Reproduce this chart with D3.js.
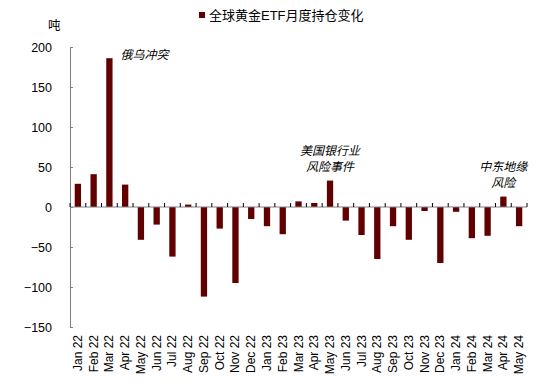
<!DOCTYPE html>
<html>
<head>
<meta charset="utf-8">
<script src="https://cdn.jsdelivr.net/npm/d3@7"></script>
<style>
  body { margin: 0; background: #fff; }
  text { font-family: "Liberation Sans", Arial, "Noto Sans CJK SC", sans-serif; }
</style>
</head>
<body>
<div id="chart"></div>
<script>
// Data
var months = ['Jan 22', 'Feb 22', 'Mar 22', 'Apr 22', 'May 22', 'Jun 22', 'Jul 22', 'Aug 22', 'Sep 22', 'Oct 22',
  'Nov 22', 'Dec 22', 'Jan 23', 'Feb 23', 'Mar 23', 'Apr 23', 'May 23', 'Jun 23', 'Jul 23', 'Aug 23',
  'Sep 23', 'Oct 23', 'Nov 23', 'Dec 23', 'Jan 24', 'Feb 24', 'Mar 24', 'Apr 24', 'May 24'];
var flows = [29, 41, 186, 28, -41, -22, -62, 3, -112, -27,
  -95, -15, -24, -34, 7, 5, 33, -17, -35, -65,
  -24, -41, -5, -70, -6, -39, -36, 13, -24];
var yTicks = [200, 150, 100, 50, 0, -50, -100, -150];
var seriesName = '全球黄金ETF月度持仓变化';
var notes = [
  { month: 'Mar 22', lines: ['俄乌冲突'] },
  { month: 'May 23', lines: ['美国银行业', '风险事件'] },
  { month: 'Apr 24', lines: ['中东地缘', '风险'] }
];

var width = 551;
var height = 384;
var barColor = '#600000';

var svg = d3.select('#chart')
  .append('svg')
  .attr('width', width)
  .attr('height', height);

// Scales
var scaleX = d3.scaleBand()
  .domain(months)
  .range([70, 527])
  .paddingInner(0.6)
  .paddingOuter(0.3);

var scaleY = d3.scaleLinear()
  .domain([-150, 200])
  .range([327, 47]);

// Y axis
var axisY = d3.axisRight(scaleY)
  .tickValues(yTicks)
  .tickSize(3)
  .tickFormat(function (d) { return d3.format('')(d).replace('-', '−'); });

var gy = svg.append('g')
  .attr('transform', 'translate(70,0)')
  .call(axisY);
gy.select('.domain').attr('stroke', '#808080');
gy.selectAll('.tick line').attr('stroke', '#808080');
gy.selectAll('.tick text')
  .attr('x', -18)
  .attr('text-anchor', 'end')
  .attr('font-size', 12.5)
  .attr('fill', '#000');

// Bars
svg.append('g')
  .selectAll('rect')
  .data(flows)
  .enter()
  .append('rect')
  .attr('x', function (d, i) { return scaleX(months[i]); })
  .attr('y', function (d) { return scaleY(Math.max(0, d)); })
  .attr('width', scaleX.bandwidth())
  .attr('height', function (d) { return Math.abs(scaleY(d) - scaleY(0)); })
  .attr('fill', barColor);

// Zero line with category ticks
var step = scaleX.step();
var boundaries = d3.range(months.length + 1).map(function (i) { return 70 + i * step; });
var gx = svg.append('g');
gx.append('line')
  .attr('x1', 70).attr('x2', 527)
  .attr('y1', scaleY(0)).attr('y2', scaleY(0))
  .attr('stroke', '#808080');
gx.selectAll('.tk')
  .data(boundaries)
  .enter()
  .append('line')
  .attr('x1', function (d) { return d; })
  .attr('x2', function (d) { return d; })
  .attr('y1', scaleY(0))
  .attr('y2', scaleY(0) - 4)
  .attr('stroke', '#000');

// Month labels (rotated)
svg.append('g')
  .selectAll('text')
  .data(months)
  .enter()
  .append('text')
  .text(function (d) { return d; })
  .attr('transform', function (d) {
    return 'translate(' + (scaleX(d) + scaleX.bandwidth() / 2 + 4) + ',335) rotate(-90)';
  })
  .attr('text-anchor', 'end')
  .attr('font-size', 12)
  .attr('fill', '#000');

// Unit
svg.append('text')
  .text('吨')
  .attr('x', 48)
  .attr('y', 30)
  .attr('font-size', 12.5)
  .attr('fill', '#000');

// Legend
svg.append('rect')
  .attr('x', 199).attr('y', 12)
  .attr('width', 6).attr('height', 6)
  .attr('fill', barColor);
svg.append('text')
  .text(seriesName)
  .attr('x', 209)
  .attr('y', 20)
  .attr('font-size', 13)
  .attr('fill', '#000');

// Annotations
notes.forEach(function (n) {
  var cx = scaleX(n.month) + scaleX.bandwidth() / 2;
  var v = flows[months.indexOf(n.month)];
  var t = svg.append('text')
    .attr('font-size', 12)
    .attr('font-style', 'italic')
    .attr('fill', '#000');
  n.lines.forEach(function (line, j) {
    t.append('tspan')
      .text(line)
      .attr('x', cx)
      .attr('dy', j === 0 ? 0 : 16);
  });
  if (n.month === 'Mar 22') {
    t.attr('y', 59).attr('text-anchor', 'start');
    t.selectAll('tspan').attr('x', cx + 11);
  } else {
    var lineCount = n.lines.length;
    t.attr('y', scaleY(v) - 10 - (lineCount - 1) * 16).attr('text-anchor', 'middle');
  }
});
</script>
</body>
</html>
